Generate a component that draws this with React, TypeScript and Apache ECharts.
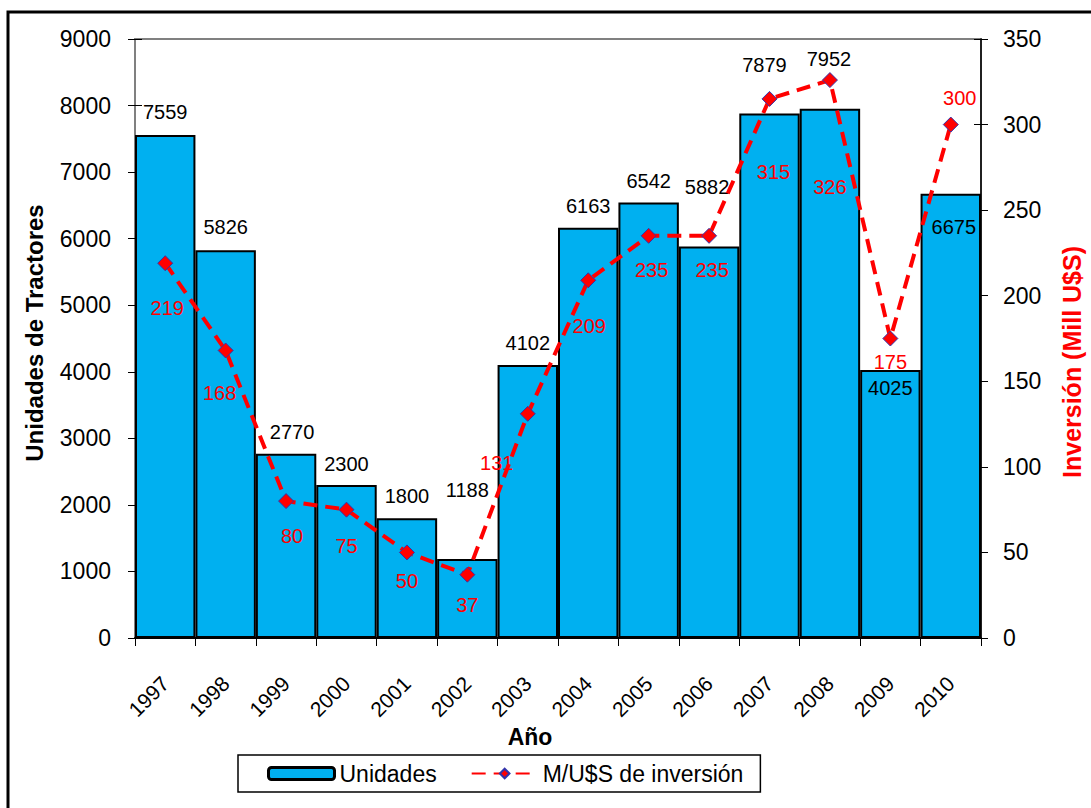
import React, { useEffect, useRef } from "react";
import * as echarts from "echarts";

const years = ["1997", "1998", "1999", "2000", "2001", "2002", "2003", "2004", "2005", "2006", "2007", "2008", "2009", "2010"];
const unidades = [7559, 5826, 2770, 2300, 1800, 1188, 4102, 6163, 6542, 5882, 7879, 7952, 4025, 6675];
const inversion = [219, 168, 80, 75, 50, 37, 131, 209, 235, 235, 315, 326, 175, 300];

const leftAxis = { min: 0, max: 9000, interval: 1000 };
const rightAxis = { min: 0, max: 350, interval: 50 };

// label placement offsets (pixels) relative to bar top / marker centre
const unidadesLabelOffsets = [
  [0, -23], [0, -23], [6, -22], [0, -21], [0, -22], [0, -69], [0, -22],
  [0, -22], [0, -22], [-2, -60], [-5, -49], [-1, -50], [0, 18], [3, 33],
];
const inversionLabelOffsets = [
  [2, 45], [-6, 43], [6, 35], [0, 36], [0, 29], [0, 30], [-31, 49],
  [1, 46], [3, 34], [3, 34], [4, 73], [0, 107], [0, 23], [9, -27],
];

const FONT = 'Arial, "Liberation Sans", sans-serif';

export default function App() {
  const ref = useRef<HTMLDivElement>(null);
  useEffect(() => {
    document.body.style.margin = "0";
    if (!ref.current) return;
    const chart = echarts.init(ref.current, null, { renderer: "svg" });
    const barData = unidades.map((v, i) => ({
      value: v,
      label: { offset: unidadesLabelOffsets[i] },
    }));
    const lineData = inversion.map((v, i) => ({
      value: v,
      label: { offset: inversionLabelOffsets[i] },
    }));
    const plain = (v: number) => String(v);
    chart.setOption({
      animation: false,
      backgroundColor: "#ffffff",
      textStyle: { fontFamily: FONT },
      grid: {
        left: 135,
        right: 110,
        top: 39,
        bottom: 170,
        show: true,
        borderColor: "#808080",
        borderWidth: 2,
        backgroundColor: "transparent",
      },
      legend: {
        left: 238,
        top: 755,
        orient: "horizontal",
        borderColor: "#000",
        borderWidth: 1.5,
        padding: [7, 17, 7, 29],
        itemWidth: 66,
        itemHeight: 12,
        itemGap: 34,
        textStyle: { fontSize: 23, color: "#000", fontFamily: FONT },
        data: [
          { name: "Unidades", itemStyle: { borderWidth: 3, borderColor: "#000" } },
          { name: "M/U$S de inversión" },
        ],
      },
      xAxis: {
        type: "category",
        data: years,
        boundaryGap: true,
        axisLine: { lineStyle: { color: "#000", width: 2 } },
        axisTick: { show: true, length: 8, lineStyle: { color: "#000", width: 1 } },
        axisLabel: { rotate: 45, fontSize: 21, color: "#000", margin: 42, fontFamily: FONT },
        splitLine: { show: false },
      },
      yAxis: [
        {
          type: "value",
          position: "left",
          ...leftAxis,
          axisLine: { show: true, lineStyle: { color: "#808080", width: 2 } },
          axisTick: { show: true, length: 7, lineStyle: { color: "#000" } },
          axisLabel: { fontSize: 23, color: "#000", margin: 24, fontFamily: FONT, formatter: plain },
          splitLine: { show: false },
        },
        {
          type: "value",
          position: "right",
          ...rightAxis,
          axisLine: { show: true, lineStyle: { color: "#000", width: 1.5 } },
          axisTick: { show: true, length: 7, lineStyle: { color: "#000" } },
          axisLabel: { fontSize: 23, color: "#000", margin: 22, fontFamily: FONT, formatter: plain },
          splitLine: { show: false },
        },
        {
          type: "value",
          position: "left",
          ...leftAxis,
          axisLine: { show: false },
          axisTick: { show: true, inside: true, length: 7, lineStyle: { color: "#000" } },
          axisLabel: { show: false },
          splitLine: { show: false },
        },
        {
          type: "value",
          position: "right",
          ...rightAxis,
          axisLine: { show: false },
          axisTick: { show: true, inside: true, length: 7, lineStyle: { color: "#000" } },
          axisLabel: { show: false },
          splitLine: { show: false },
        },
      ],
      series: [
        {
          name: "Unidades",
          type: "bar",
          yAxisIndex: 0,
          data: barData,
          barCategoryGap: 0,
          itemStyle: { color: "#00B0F0", borderColor: "#000", borderWidth: 2 },
          label: {
            show: true,
            position: ["50%", 0],
            align: "center",
            verticalAlign: "middle",
            fontSize: 20,
            color: "#000",
            fontFamily: FONT,
          },
          z: 2,
        },
        {
          name: "M/U$S de inversión",
          type: "line",
          yAxisIndex: 1,
          data: lineData,
          symbol: "diamond",
          symbolSize: 15,
          lineStyle: { color: "#FF0000", width: 4, type: [14, 8] },
          itemStyle: { color: "#FF0000", borderColor: "#3333AA", borderWidth: 1 },
          label: {
            show: true,
            position: "inside",
            align: "center",
            verticalAlign: "middle",
            fontSize: 20,
            color: "#FF0000",
            fontFamily: FONT,
          },
          z: 5,
        },
      ],
      graphic: [
        {
          type: "rect",
          shape: { x: 8, y: 12, width: 1200, height: 900 },
          style: { fill: "none", stroke: "#000", lineWidth: 3 },
          silent: true,
        },
        {
          type: "text",
          x: 34,
          y: 333,
          rotation: Math.PI / 2,
          style: {
            text: "Unidades de Tractores",
            fontSize: 24,
            fontWeight: "bold",
            fill: "#000",
            fontFamily: FONT,
            align: "center",
            verticalAlign: "middle",
          },
        },
        {
          type: "text",
          x: 1072,
          y: 362,
          rotation: Math.PI / 2,
          style: {
            text: "Inversión (Mill U$S)",
            fontSize: 25,
            fontWeight: "bold",
            fill: "#FF0000",
            fontFamily: FONT,
            align: "center",
            verticalAlign: "middle",
          },
        },
        {
          type: "text",
          x: 530,
          y: 737,
          style: {
            text: "Año",
            fontSize: 23,
            fontWeight: "bold",
            fill: "#000",
            fontFamily: FONT,
            align: "center",
            verticalAlign: "middle",
          },
        },
      ],
    });
    return () => chart.dispose();
  }, []);
  return <div ref={ref} style={{ width: 1091, height: 808 }} />;
}
